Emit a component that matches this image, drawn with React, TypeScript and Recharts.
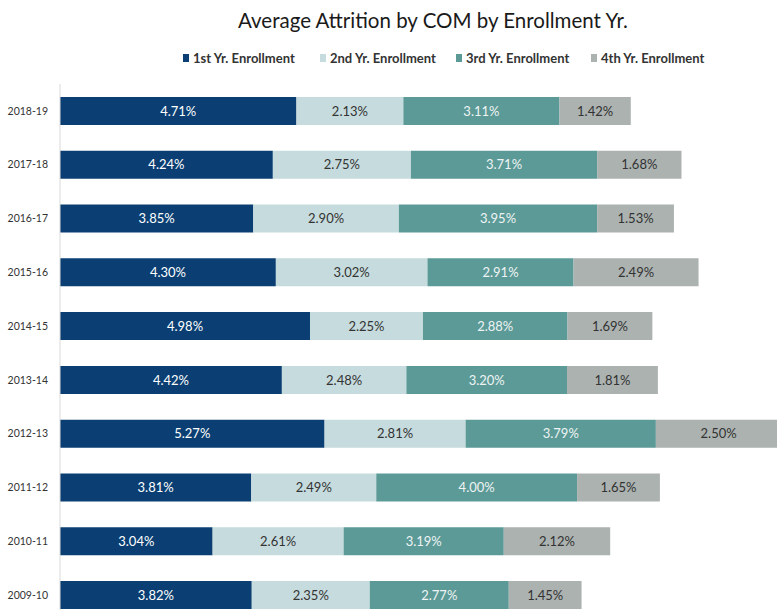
import { Bar, BarChart, LabelList, XAxis, YAxis } from 'recharts';

const years = ['2018-19', '2017-18', '2016-17', '2015-16', '2014-15', '2013-14', '2012-13', '2011-12', '2010-11', '2009-10'];
const firstYr = [4.71, 4.24, 3.85, 4.3, 4.98, 4.42, 5.27, 3.81, 3.04, 3.82];
const secondYr = [2.13, 2.75, 2.9, 3.02, 2.25, 2.48, 2.81, 2.49, 2.61, 2.35];
const thirdYr = [3.11, 3.71, 3.95, 2.91, 2.88, 3.2, 3.79, 4.0, 3.19, 2.77];
const fourthYr = [1.42, 1.68, 1.53, 2.49, 1.69, 1.81, 2.5, 1.65, 2.12, 1.45];

const seriesNames = ['1st Yr. Enrollment', '2nd Yr. Enrollment', '3rd Yr. Enrollment', '4th Yr. Enrollment'];
const seriesKeys = ['first', 'second', 'third', 'fourth'];
const colors = ['#0b3f73', '#c6dbdd', '#5c9a97', '#abb2b0'];
const labelColors = ['#ffffff', '#333333', '#eef4f4', '#333333'];

const FONT = 'Lato, "Open Sans", sans-serif';

export default function App() {
  const data = years.map((year, i) => ({
    year,
    first: firstYr[i],
    second: secondYr[i],
    third: thirdYr[i],
    fourth: fourthYr[i],
  }));

  // legend item left edges, picked to line up with the reference
  const legendX = [183, 320, 456, 591];

  return (
    <div
      style={{
        position: 'fixed',
        left: 0,
        top: 0,
        width: 777,
        height: 610,
        overflow: 'hidden',
        background: '#fff',
        fontFamily: FONT,
      }}
    >
      <div
        style={{
          position: 'absolute',
          top: 8,
          left: 238,
          fontSize: 20.5,
          color: '#1a1a1a',
          whiteSpace: 'nowrap',
        }}
      >
        Average Attrition by COM by Enrollment Yr.
      </div>
      {seriesNames.map((name, i) => (
        <div
          key={name}
          style={{
            position: 'absolute',
            top: 50,
            left: legendX[i],
            display: 'flex',
            alignItems: 'center',
            fontSize: 13,
            fontWeight: 700,
            color: '#333',
            whiteSpace: 'nowrap',
          }}
        >
          <span style={{ width: 6, height: 8, background: colors[i], marginRight: 4, display: 'inline-block' }} />
          {name}
        </div>
      ))}
      <div style={{ position: 'absolute', left: 0, top: 0 }}>
        <BarChart
          width={813}
          height={640}
          data={data}
          layout="vertical"
          margin={{ top: 84, right: 0, bottom: 18, left: 0 }}
          barCategoryGap="24%"
        >
          <XAxis type="number" domain={[0, 15]} hide />
          <YAxis
            type="category"
            dataKey="year"
            width={60}
            tickLine={false}
            axisLine={{ stroke: '#d9d9d9' }}
            tickMargin={6}
            tick={{ fill: '#333', fontSize: 10.5, fontFamily: FONT }}
          />
          {seriesKeys.map((key, i) => (
            <Bar key={key} dataKey={key} stackId="a" fill={colors[i]} isAnimationActive={false}>
              <LabelList
                dataKey={key}
                position="center"
                fill={labelColors[i]}
                fontSize={13}
                fontFamily={FONT}
                formatter={(v: any) => `${Number(v).toFixed(2)}%`}
              />
            </Bar>
          ))}
        </BarChart>
      </div>
    </div>
  );
}
